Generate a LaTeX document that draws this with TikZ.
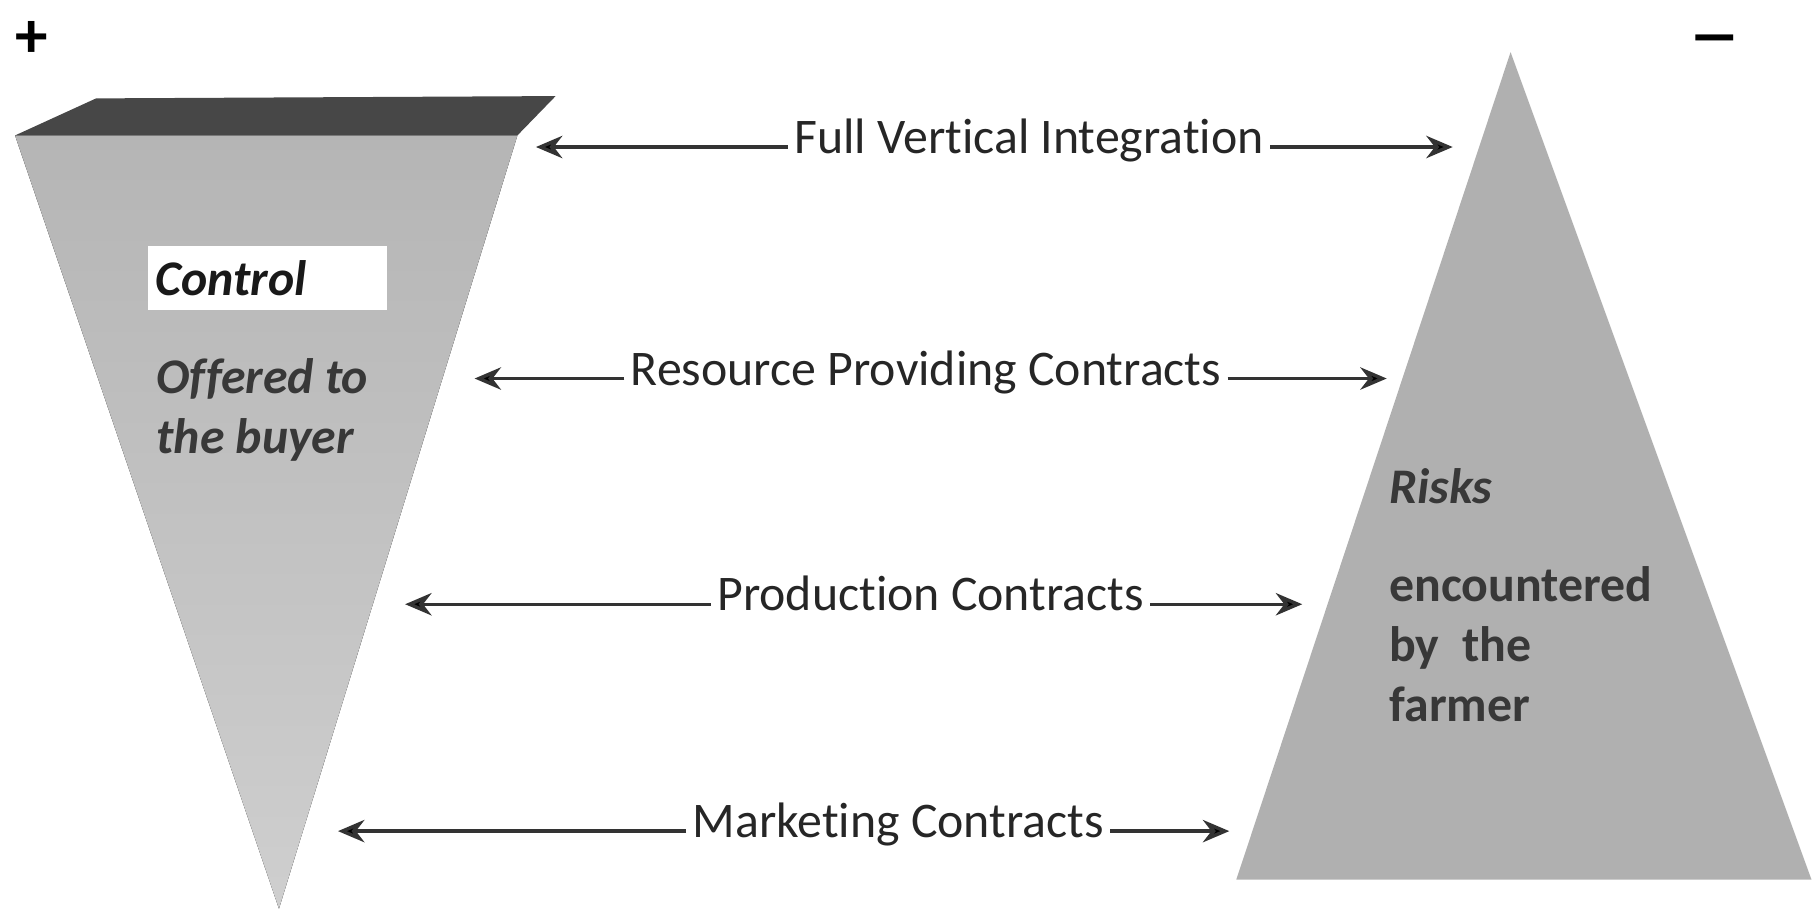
\documentclass[tikz,border=0pt]{standalone}
\usepackage{fontspec}
\setmainfont{Carlito}[Ligatures=NoCommon]
\usetikzlibrary{arrows.meta,positioning}

\begin{document}
\begin{tikzpicture}[%
    x=0.02cm,
    y=-0.02cm,
    >={Stealth[length=13pt,width=11pt]},
    font=\fontsize{24.5}{29.5}\selectfont,
    link/.style={->, line width=1.7pt, draw=black!80},
    level/.style={text=black!85, text height=0.64em, text depth=0pt, inner xsep=3pt},
    note/.style={text=black!78, align=left, inner sep=0pt, font=\fontsize{24.5}{29.5}\selectfont\bfseries},
    sign/.style={inner sep=0pt, font=\fontsize{32}{32}\selectfont\bfseries},
    ctlbox/.style={fill=white, text=black!90, minimum height=1.1cm, text width=3.86cm,
                   inner xsep=0.14cm, align=left, font=\fontsize{24.5}{29.5}\selectfont\bfseries\itshape}
  ]
    \useasboundingbox (0,0) rectangle (1568,785);

    % signs
    \node[sign] (plus) at (27,34) {+};
    \node[sign] (minus) at (1481,40) {\scalebox{1.5}[1]{−}};

    % control funnel
    \fill[top color=gray!58, bottom color=gray!38] (13,117) -- (447,117) -- (241,785) -- cycle;
    \fill[black!72] (13,117) -- (83,85) -- (480,83) -- (447,117) -- cycle;

    % risk pyramid
    \fill[gray!62] (1305,45) -- (1565,760) -- (1068,760) -- cycle;

    % texts in the shapes
    \node[ctlbox] (control) at (231,240) {Control};
    \node[note, font=\fontsize{24.5}{29.5}\selectfont\bfseries\itshape, anchor=north west] (offer) at (135,309) {Offered to\\the buyer};
    \node[note, font=\fontsize{24.5}{29.5}\selectfont\bfseries\itshape, anchor=north west] (risks) at (1200,404) {Risks};
    \node[note, anchor=north west] (farmer) at (1200,489) {encountered\\by\ \ the\\farmer};

    % contract levels
    \node[level] (fvi) at (889,127) {Full Vertical Integration};
    \node[level] (rpc) at (800,327) {Resource Providing Contracts};
    \node[level] (prc) at (804,522) {Production Contracts};
    \node[level] (mkc) at (776,718) {Marketing Contracts};

    \coordinate (fvi-l) at (463,127);
    \coordinate (fvi-r) at (1255,127);
    \coordinate (rpc-l) at (410,327);
    \coordinate (rpc-r) at (1198,327);
    \coordinate (prc-l) at (350,522);
    \coordinate (prc-r) at (1125,522);
    \coordinate (mkc-l) at (292,718);
    \coordinate (mkc-r) at (1062,718);

    \path[link] (fvi) edge (fvi-l)
                (fvi) edge (fvi-r)
                (rpc) edge (rpc-l)
                (rpc) edge (rpc-r)
                (prc) edge (prc-l)
                (prc) edge (prc-r)
                (mkc) edge (mkc-l)
                (mkc) edge (mkc-r);
\end{tikzpicture}
\end{document}
